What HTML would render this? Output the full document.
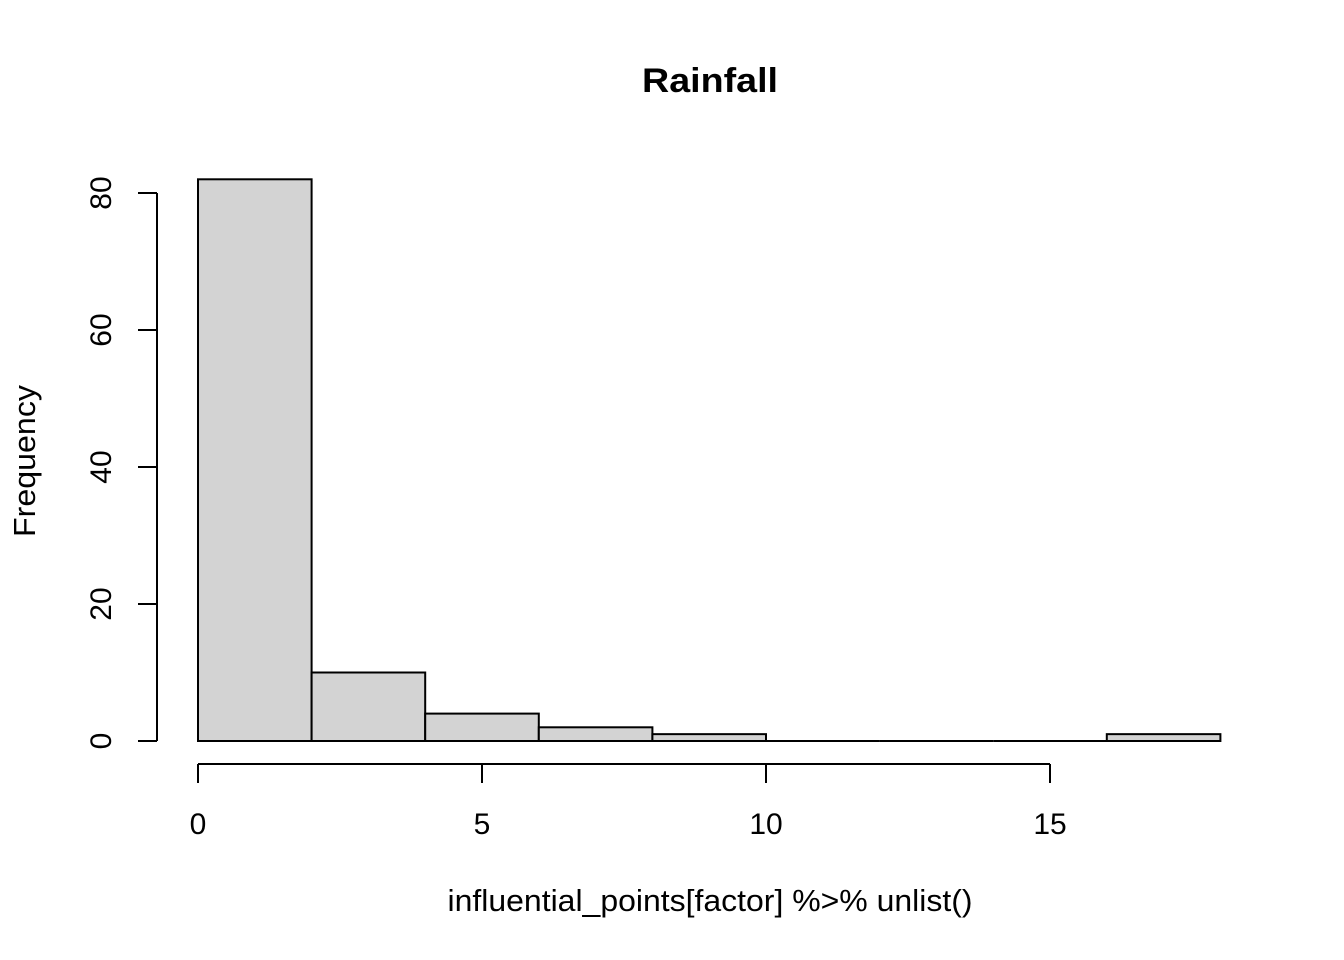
<!DOCTYPE html>
<html><head><meta charset="utf-8"><style>
html,body{margin:0;padding:0;background:#fff;}
svg{display:block;font-family:"Liberation Sans",Arial,sans-serif;}
</style></head><body>
<svg id="chart" width="1344" height="960" xmlns="http://www.w3.org/2000/svg">
<text x="710" y="92" text-anchor="middle" font-size="34" font-weight="bold" textLength="136" lengthAdjust="spacingAndGlyphs">Rainfall</text>
<text x="710" y="911" text-anchor="middle" font-size="31" textLength="525" lengthAdjust="spacingAndGlyphs">influential_points[factor] %&gt;% unlist()</text>
<text transform="translate(35,461) rotate(-90)" text-anchor="middle" font-size="31" textLength="152" lengthAdjust="spacingAndGlyphs">Frequency</text>
<g id="bars"></g><g id="xaxis"></g><g id="yaxis"></g>
</svg>
<script>
const binStarts = [0,2,4,6,8,10,12,14,16];
const binWidth = 2;
const counts = [82,10,4,2,1,0,0,0,1];
const xTicks = [0,5,10,15];
const yTicks = [0,20,40,60,80];
const NS="http://www.w3.org/2000/svg";
const xs = v => 198 + v*56.8;
const ys = v => 741 - v*6.85;
function mk(tag, attrs, parent){const e=document.createElementNS(NS,tag);for(const k in attrs)e.setAttribute(k,attrs[k]);parent.appendChild(e);return e;}
const bars=document.getElementById('bars');
counts.forEach((c,i)=>{
  const x0=xs(binStarts[i]), x1=xs(binStarts[i]+binWidth);
  let r;
  if(c>0){
    r=mk('rect',{x:x0,y:ys(c),width:x1-x0,height:ys(0)-ys(c),fill:'#d3d3d3',stroke:'#000','stroke-width':2},bars);
  } else {
    r=mk('line',{x1:x0,x2:x1,y1:ys(0),y2:ys(0),stroke:'#000','stroke-width':2},bars);
  }
  
  
});
const xa=document.getElementById('xaxis');
const xl=mk('line',{x1:xs(xTicks[0]),x2:xs(xTicks[xTicks.length-1]),y1:764,y2:764,stroke:'#000','stroke-width':2},xa);


xTicks.forEach(t=>{
  mk('line',{x1:xs(t),x2:xs(t),y1:764,y2:783,stroke:'#000','stroke-width':2},xa);
  const tx=mk('text',{x:xs(t),y:834,'text-anchor':'middle','font-size':30},xa);
  tx.textContent=t;
  
  
});
const ya=document.getElementById('yaxis');
const yl=mk('line',{x1:157,x2:157,y1:ys(yTicks[0]),y2:ys(yTicks[yTicks.length-1]),stroke:'#000','stroke-width':2},ya);


yTicks.forEach(t=>{
  mk('line',{x1:138,x2:157,y1:ys(t),y2:ys(t),stroke:'#000','stroke-width':2},ya);
  const tx=mk('text',{transform:`translate(111,${ys(t)}) rotate(-90)`,'text-anchor':'middle','font-size':30},ya);
  tx.textContent=t;
  
  
});
</script>
</body></html>
